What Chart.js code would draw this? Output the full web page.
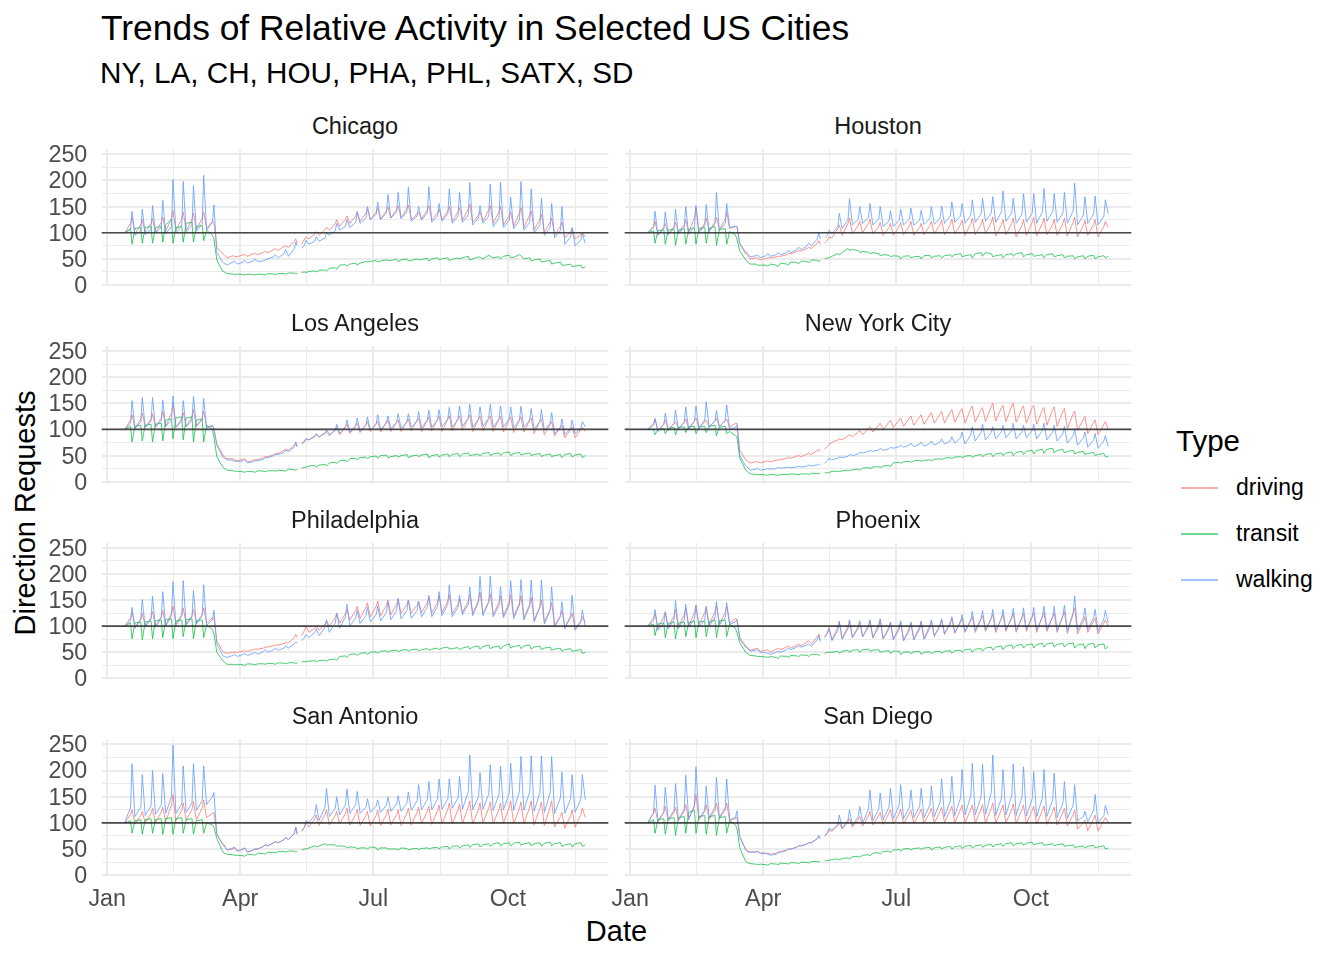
<!DOCTYPE html>
<html>
<head>
<meta charset="utf-8">
<script src="https://cdn.jsdelivr.net/npm/chart.js@4.4.0/dist/chart.umd.min.js"></script>
<style>
  html, body { margin:0; padding:0; background:#fff; }
  body { width:1344px; height:960px; position:relative; overflow:hidden;
         font-family:"Liberation Sans", Arial, Helvetica, sans-serif; }
  .t { position:absolute; white-space:nowrap; line-height:1; }
  canvas { position:absolute; }
</style>
</head>
<body>
<div class="t" id="title" style="left:101px;top:10.7px;font-size:35.4px;color:#000;">Trends of Relative Activity in Selected US Cities</div>
<div class="t" id="subtitle" style="left:100px;top:58.2px;font-size:29.7px;color:#000;">NY, LA, CH, HOU, PHA, PHL, SATX, SD</div>
<div class="t" id="ytitle" style="left:25px;top:512.5px;font-size:29px;color:#000;transform:translate(-50%,-50%) rotate(-90deg);">Direction Requests</div>
<div class="t" id="xtitle" style="left:616.5px;top:916.5px;font-size:29px;color:#000;transform:translateX(-50%);">Date</div>
<div id="legend"></div>
<div id="panels"></div>
<script>
// ---------- DATA ----------
// day of year 2020 (0 = Jan 1): weekly Monday / Friday / Saturday samples (Jan 13 .. Nov 23), May 11 missing
const days = [12,16,17, 19,23,24, 26,30,31, 33,37,38, 40,44,45, 47,51,52, 54,58,59, 61,65,66, 68,72,73,
 75,79,80, 82,86,87, 89,93,94, 96,100,101, 103,107,108, 110,114,115, 117,121,122, 124,128,129,
 130, 131,133,135,136,
 138,142,143, 145,149,150, 152,156,157, 159,163,164, 166,170,171, 173,177,178, 180,184,185, 187,191,192,
 194,198,199, 201,205,206, 208,212,213, 215,219,220, 222,226,227, 229,233,234, 236,240,241, 243,247,248,
 250,254,255, 257,261,262, 264,268,269, 271,275,276, 278,282,283, 285,289,290, 292,296,297, 299,303,304,
 306,310,311, 313,317,318, 320,324,325,
 327];

const cities = ['Chicago','Houston','Los Angeles','New York City','Philadelphia','Phoenix','San Antonio','San Diego'];
const types = ['driving','transit','walking'];

const chicagoDriving = [100,118,130, 98,115,125, 100,118,128, 100,120,130, 102,128,142, 104,126,140, 104,125,138, 106,128,140, 108,122,120,
 72,60,58, 52,56,55, 54,58,58, 55,60,60, 58,63,64, 62,68,70, 66,74,75, 72,84,88,
 80, null,78,88,92,
 88,98,102, 95,106,110, 105,118,125, 112,126,132, 118,132,140, 122,138,145, 125,140,148, 126,142,150, 128,145,152,
 128,146,153, 125,136,140, 126,144,152, 124,138,145, 125,142,150, 122,140,148, 124,146,155, 120,134,140, 122,144,152,
 118,140,150, 115,132,140, 112,138,148, 110,134,142, 105,126,135, 100,120,128, 95,112,120, 90,102,108, 88,96,100,
 92];
const chicagoTransit = [100,108,78, 108,110,80, 110,112,80, 110,112,82, 115,126,80, 110,112,82, 118,120,82, 112,114,85, 105,95,88,
 48,26,25, 22,21,20, 21,20,19, 21,20,19, 21,20,19, 22,21,20, 22,22,21, 23,23,22,
 22, null,24,25,24,
 26,27,25, 28,29,27, 32,33,30, 38,39,36, 40,42,38, 42,45,44, 45,47,44, 46,48,47, 47,49,45,
 48,50,46, 47,50,48, 49,51,46, 50,52,48, 50,52,47, 49,52,50, 52,55,48, 50,54,53, 50,57,55,
 52,54,50, 55,57,52, 53,58,56, 50,52,46, 48,50,44, 45,47,40, 42,44,38, 38,40,35, 36,38,32,
 35];
const chicagoWalking = [100,106,141, 95,104,145, 97,106,152, 100,110,162, 98,112,202, 100,112,198, 102,114,190, 103,116,210, 105,120,153,
 62,44,42, 38,44,46, 40,44,47, 42,46,50, 45,46,48, 50,54,58, 52,60,68, 55,70,82,
 75, null,70,76,86,
 78,84,92, 84,90,100, 95,104,118, 105,112,125, 110,120,140, 118,128,150, 125,135,159, 125,138,173, 128,140,177,
 127,140,187, 122,132,150, 124,138,188, 120,132,156, 122,136,184, 118,132,177, 120,134,196, 115,128,152, 118,132,193,
 112,128,196, 110,124,168, 108,124,198, 105,120,184, 100,115,166, 95,110,156, 90,104,150, 78,92,110, 75,86,98,
 80];

const houstonDriving = [100,112,122, 96,110,118, 98,112,120, 100,115,125, 100,130,148, 102,118,128, 104,120,130, 106,126,140, 108,112,112,
 78,60,58, 50,52,52, 48,51,52, 52,54,55, 55,58,60, 60,64,66, 65,70,72, 70,80,85,
 78, null,80,86,92,
 90,108,115, 95,118,128, 98,114,122, 100,118,126, 98,112,120, 95,110,118, 95,112,120, 96,114,122, 95,110,118,
 96,114,122, 98,116,124, 96,116,126, 98,116,124, 95,118,128, 96,116,126, 98,120,130, 94,116,125, 96,118,128,
 92,114,125, 95,120,130, 94,118,128, 96,116,126, 95,118,128, 94,120,130, 92,114,124, 95,116,125, 92,112,122,
 110];
const houstonTransit = [100,104,80, 104,106,78, 105,107,76, 105,108,78, 106,110,78, 108,110,80, 108,112,76, 106,108,78, 102,96,88,
 65,48,45, 40,40,38, 38,38,36, 40,38,35, 42,40,38, 44,43,40, 46,45,42, 48,47,45,
 48, null,50,52,52,
 55,60,58, 62,70,66, 68,66,62, 64,63,60, 62,60,56, 58,57,54, 56,55,50, 55,56,52, 54,55,50,
 56,57,52, 55,56,52, 56,58,54, 58,60,54, 56,58,52, 60,62,55, 62,60,54, 56,58,52, 58,60,55,
 60,62,54, 58,60,55, 56,58,52, 58,60,54, 56,58,52, 55,56,50, 54,56,50, 55,57,50, 54,56,52,
 55];
const houstonWalking = [100,110,141, 95,108,140, 96,108,145, 98,110,150, 97,112,152, 100,114,154, 102,118,177, 104,118,156, 110,112,112,
 80,62,62, 54,56,58, 52,56,60, 55,58,62, 58,62,66, 62,68,72, 68,75,80, 75,88,100,
 88, null,90,95,105,
 98,112,137, 108,125,165, 115,126,150, 118,130,156, 115,126,150, 112,122,142, 112,124,145, 115,126,147, 114,124,143,
 116,128,150, 116,128,151, 118,132,159, 120,132,156, 118,134,163, 120,136,166, 122,138,169, 120,140,180, 122,138,166,
 118,136,175, 120,138,175, 118,140,185, 122,140,175, 120,138,177, 118,142,195, 115,134,169, 118,136,170, 115,132,163,
 136];

const losAngelesDriving = [100,118,128, 102,120,132, 104,120,130, 104,122,135, 105,132,150, 104,120,132, 105,124,138, 106,122,135, 104,108,102,
 72,52,48, 44,44,42, 40,43,44, 38,41,42, 42,46,48, 48,52,54, 54,60,62, 60,70,76,
 68, null,74,78,82,
 80,88,90, 85,94,96, 88,100,104, 90,106,110, 92,108,112, 94,110,115, 96,112,116, 95,114,118, 96,114,118,
 96,116,120, 97,118,122, 96,118,124, 97,120,125, 96,120,126, 97,121,126, 98,122,128, 96,120,125, 97,121,126,
 96,120,125, 95,119,124, 94,118,124, 95,118,122, 92,116,120, 90,110,115, 88,104,108, 84,100,105, 84,100,104,
 96];
const losAngelesTransit = [100,106,76, 106,108,78, 108,110,76, 110,112,78, 118,120,82, 122,124,80, 122,124,76, 118,120,76, 108,100,85,
 48,28,26, 22,21,20, 20,19,18, 20,19,18, 21,20,19, 21,21,20, 22,21,20, 24,23,22,
 24, null,26,27,28,
 30,31,28, 32,33,30, 36,37,35, 40,41,38, 44,45,42, 46,47,44, 48,49,45, 50,51,46, 48,50,47,
 50,52,46, 49,51,48, 51,53,46, 50,52,47, 51,53,48, 52,54,48, 53,55,50, 51,53,49, 54,56,50,
 53,55,50, 55,57,50, 54,56,51, 53,55,50, 52,54,48, 51,53,48, 50,52,46, 52,54,47, 51,53,46,
 50];
const losAngelesWalking = [100,112,155, 102,114,161, 104,116,161, 105,116,156, 106,118,164, 104,116,155, 105,118,163, 106,118,159, 104,106,100,
 70,48,45, 42,41,40, 38,40,42, 36,38,40, 40,43,46, 46,50,52, 52,56,60, 58,66,75,
 66, null,72,76,82,
 80,86,92, 86,92,100, 90,98,110, 92,104,118, 95,106,122, 96,108,124, 98,110,128, 100,112,126, 101,114,130,
 102,114,130, 104,116,134, 103,118,137, 104,118,138, 105,120,142, 104,120,145, 106,122,148, 104,120,143, 106,122,148,
 104,120,145, 105,120,143, 103,118,144, 104,118,140, 100,116,138, 98,112,132, 92,104,120, 90,102,118, 92,102,115,
 105];

const newYorkDriving = [100,112,120, 98,110,118, 100,110,115, 102,114,120, 102,116,122, 104,114,118, 105,116,122, 106,116,120, 104,112,112,
 60,42,40, 36,38,38, 36,39,40, 38,41,42, 42,45,46, 45,49,50, 48,53,55, 52,60,62,
 58, null,62,68,72,
 75,80,82, 80,88,90, 86,95,98, 90,102,105, 95,108,112, 100,114,118, 104,118,122, 106,122,126, 108,124,128,
 110,128,132, 112,130,135, 112,134,138, 114,136,140, 112,140,145, 114,138,142, 115,144,150, 116,142,146, 115,145,150,
 114,140,145, 112,142,146, 110,138,142, 108,138,143, 106,135,140, 102,130,135, 98,120,125, 92,114,118, 90,110,115,
 100];
const newYorkTransit = [100,100,90, 100,102,92, 102,104,90, 104,105,94, 105,106,92, 104,106,94, 106,108,88, 104,106,92, 96,88,86,
 45,22,20, 15,14,13, 14,13,12, 14,13,12, 14,14,13, 15,14,13, 15,15,14, 16,16,15,
 16, null,17,17,17,
 20,20,19, 21,22,21, 23,24,22, 26,27,25, 28,29,27, 30,31,29, 36,37,35, 38,39,37, 40,41,39,
 41,42,40, 43,44,42, 45,46,44, 47,48,46, 49,50,46, 50,52,48, 52,54,48, 53,55,50, 55,57,50,
 56,58,52, 58,60,53, 60,62,54, 62,64,55, 60,62,55, 58,60,53, 56,58,52, 54,56,50, 52,54,48,
 48];
const newYorkWalking = [100,108,121, 96,110,131, 98,112,137, 100,114,143, 100,116,145, 102,118,153, 104,116,136, 104,118,147, 100,104,108,
 50,30,28, 22,24,26, 22,24,25, 24,25,27, 26,27,28, 27,28,30, 28,30,32, 30,32,34,
 32, null,35,40,45,
 42,45,48, 46,49,52, 50,53,56, 55,58,60, 58,61,64, 60,63,66, 64,67,70, 66,70,74, 67,72,76,
 68,73,78, 70,76,82, 72,78,86, 74,84,95, 72,90,105, 78,94,110, 80,94,105, 82,96,108, 84,98,112,
 82,96,108, 84,98,110, 82,98,112, 80,95,108, 78,92,106, 74,88,100, 70,84,95, 66,80,92, 64,78,88,
 67];

const philadelphiaDriving = [100,116,128, 98,114,125, 100,116,128, 100,118,130, 102,124,138, 104,122,135, 104,120,132, 106,122,135, 106,116,115,
 72,52,50, 48,50,50, 50,52,53, 52,55,56, 56,58,60, 60,63,64, 64,67,68, 68,78,84,
 78, null,82,92,100,
 88,96,100, 92,104,110, 100,116,125, 106,124,132, 112,130,138, 115,136,145, 118,138,148, 120,140,150, 122,142,152,
 124,142,150, 125,140,148, 126,145,155, 125,146,158, 126,148,160, 124,142,152, 126,148,160, 124,150,165, 124,148,162,
 122,145,158, 120,146,160, 118,144,158, 116,142,155, 112,138,150, 108,132,145, 102,120,130, 98,116,125, 95,110,118,
 106];
const philadelphiaTransit = [100,106,76, 106,108,74, 108,110,76, 110,112,78, 112,114,76, 110,112,80, 112,114,76, 110,112,78, 102,94,85,
 50,34,32, 27,27,26, 27,26,25, 28,27,26, 28,28,27, 29,28,27, 30,29,28, 30,30,28,
 30, null,32,32,32,
 33,34,32, 34,35,33, 36,37,35, 42,43,40, 46,47,44, 48,49,46, 50,51,48, 52,53,50, 53,54,51,
 54,55,52, 55,56,53, 55,57,54, 56,58,55, 58,60,56, 57,59,55, 58,61,56, 60,62,56, 61,64,57,
 60,62,56, 62,66,58, 61,63,57, 62,64,56, 60,62,55, 58,60,54, 56,58,52, 55,57,52, 53,55,48,
 50];
const philadelphiaWalking = [100,110,136, 96,112,151, 98,114,157, 98,116,166, 100,120,185, 100,120,187, 102,118,168, 104,120,179, 102,112,130,
 66,44,42, 40,44,46, 42,46,48, 44,48,50, 46,52,55, 50,55,58, 54,58,62, 58,66,70,
 68, null,72,78,84,
 78,88,95, 82,98,112, 88,106,124, 96,118,142, 100,116,130, 105,120,136, 108,122,138, 110,126,147, 112,130,153,
 114,130,150, 115,130,147, 118,136,159, 118,138,166, 120,142,179, 118,136,159, 122,142,175, 120,146,195, 120,146,196,
 118,140,175, 116,140,187, 114,140,189, 112,138,188, 108,136,188, 104,130,175, 98,118,147, 95,120,159, 92,108,131,
 99];

const phoenixDriving = [100,116,124, 96,118,128, 98,120,132, 98,122,135, 100,126,140, 102,126,138, 102,128,140, 104,126,138, 106,114,114,
 78,62,60, 54,57,58, 52,54,55, 50,56,58, 55,60,62, 58,64,66, 62,70,72, 66,80,85,
 74, null,80,88,98,
 74,98,108, 76,100,110, 78,100,108, 80,102,110, 78,104,112, 76,98,106, 74,100,108, 72,98,106, 74,100,108,
 76,102,110, 80,104,112, 84,108,115, 86,110,116, 88,112,118, 88,114,120, 90,116,122, 88,116,122, 90,118,124,
 88,118,124, 90,118,125, 88,120,126, 90,118,125, 88,120,128, 86,124,135, 85,110,118, 88,110,115, 85,106,112,
 100];
const phoenixTransit = [100,104,82, 104,106,78, 105,108,76, 106,108,80, 106,110,78, 108,110,80, 108,112,78, 110,112,80, 104,96,88,
 68,50,48, 44,43,42, 42,41,40, 42,40,38, 43,42,40, 44,43,42, 45,44,42, 46,46,44,
 45, null,48,50,50,
 50,52,48, 52,54,50, 54,55,50, 55,56,52, 54,55,50, 52,53,48, 52,52,46, 50,51,47, 51,52,46,
 50,51,47, 51,52,48, 52,53,48, 53,54,50, 55,56,50, 56,57,52, 58,60,54, 60,62,55, 62,64,57,
 63,65,58, 64,66,58, 65,67,60, 66,68,60, 65,67,60, 66,68,58, 64,66,57, 65,67,58, 64,66,56,
 62];
const phoenixWalking = [100,110,132, 92,106,126, 95,112,149, 96,112,142, 98,114,140, 98,112,136, 100,116,147, 102,116,145, 104,108,112,
 75,60,58, 52,54,55, 50,49,48, 46,50,52, 50,55,58, 55,60,62, 60,64,66, 62,74,82,
 70, null,78,86,95,
 72,92,110, 75,95,112, 78,96,110, 80,98,112, 78,98,114, 76,94,108, 74,94,110, 72,92,108, 74,94,110,
 75,96,112, 82,100,114, 86,104,118, 88,108,122, 90,112,128, 92,114,130, 92,115,132, 92,115,132, 93,116,134,
 92,116,135, 94,118,136, 92,118,138, 94,118,138, 92,120,140, 90,126,158, 92,116,135, 94,116,132, 90,114,130,
 106];

const sanAntonioDriving = [100,116,125, 98,114,122, 100,118,128, 100,120,130, 102,134,154, 104,124,138, 105,126,141, 106,128,144, 110,118,120,
 78,58,56, 48,50,52, 46,50,52, 44,48,50, 50,55,58, 56,62,64, 62,68,72, 68,80,92,
 78, null,84,92,100,
 92,108,115, 95,116,125, 96,114,122, 98,118,128, 96,116,126, 95,114,122, 94,114,124, 95,116,126, 96,116,125,
 95,118,128, 96,120,130, 98,122,132, 97,124,134, 98,126,138, 98,125,136, 99,130,142, 98,126,138, 100,128,140,
 98,126,138, 99,130,142, 98,128,140, 98,130,142, 96,128,140, 95,130,142, 92,112,120, 90,114,125, 92,116,128,
 110];
const sanAntonioTransit = [100,104,80, 104,106,78, 106,108,80, 106,108,78, 108,110,78, 108,110,80, 106,108,78, 104,106,80, 100,96,92,
 70,45,42, 40,39,38, 38,37,36, 40,39,38, 42,41,40, 44,43,42, 45,45,44, 46,46,44,
 46, null,48,50,50,
 52,56,54, 56,60,58, 58,58,55, 56,55,52, 54,53,50, 52,52,50, 54,52,48, 52,52,50, 50,50,48,
 52,51,48, 50,51,49, 51,52,50, 52,53,50, 54,55,50, 55,56,52, 56,58,53, 58,60,54, 58,60,55,
 60,62,56, 60,62,56, 61,63,57, 60,62,56, 60,62,55, 61,63,56, 60,62,55, 58,60,54, 60,62,55,
 58];
const sanAntonioWalking = [100,130,213, 112,130,192, 114,132,200, 116,134,194, 118,150,249, 118,136,209, 120,138,213, 124,142,209, 135,150,158,
 78,60,58, 48,52,54, 46,50,52, 44,48,50, 50,55,58, 56,62,64, 62,68,72, 68,80,92,
 78, null,84,92,105,
 100,115,135, 105,130,166, 112,128,150, 115,135,165, 118,135,160, 118,130,146, 120,132,144, 120,134,150, 122,136,152,
 122,138,159, 124,142,173, 125,145,179, 125,146,184, 126,146,184, 128,148,189, 126,160,230, 125,150,196, 126,155,211,
 124,154,208, 125,156,214, 124,160,227, 124,160,228, 122,158,228, 120,158,227, 118,148,197, 118,146,192, 120,146,192,
 144];

const sanDiegoDriving = [100,118,128, 102,120,132, 104,120,130, 104,122,135, 106,134,154, 106,122,135, 107,124,138, 108,124,138, 104,108,110,
 74,50,47, 44,45,46, 42,42,42, 40,42,44, 45,48,50, 50,54,56, 56,60,62, 62,70,74,
 70, null,74,80,86,
 84,94,100, 88,102,108, 92,106,112, 94,114,122, 96,114,120, 97,118,125, 98,118,126, 98,118,124, 99,120,126,
 100,120,128, 100,122,130, 101,124,132, 100,126,134, 100,126,134, 100,126,135, 100,128,138, 99,126,134, 100,126,136,
 99,126,134, 98,124,132, 98,124,132, 97,122,130, 96,120,128, 94,116,124, 88,100,105, 85,108,115, 84,104,110,
 100];
const sanDiegoTransit = [100,106,80, 106,108,78, 108,110,76, 110,112,80, 120,124,80, 112,114,78, 112,114,76, 110,112,80, 104,96,90,
 52,26,24, 22,21,20, 21,20,19, 22,21,20, 23,22,21, 24,23,22, 25,24,23, 26,26,25,
 26, null,27,28,28,
 30,31,29, 32,33,31, 35,36,34, 38,39,37, 42,43,40, 45,46,43, 48,49,46, 50,51,48, 51,52,49,
 52,53,48, 52,54,50, 53,55,50, 54,56,51, 55,57,52, 56,58,53, 57,59,54, 58,60,55, 60,62,56,
 60,62,57, 61,63,58, 60,62,57, 58,60,56, 58,60,55, 56,58,53, 54,56,52, 55,57,52, 54,56,50,
 52];
const sanDiegoWalking = [100,120,172, 104,120,168, 106,124,175, 106,126,191, 108,132,207, 108,124,170, 110,130,187, 110,130,184, 106,110,123,
 72,48,45, 44,44,45, 42,41,40, 38,40,42, 44,47,50, 50,53,56, 56,59,62, 62,70,76,
 70, null,76,82,90,
 86,98,115, 90,106,125, 95,112,131, 100,126,163, 104,126,157, 106,130,166, 108,134,173, 108,130,163, 110,132,166,
 110,134,171, 112,140,184, 112,142,189, 114,148,202, 115,152,214, 115,150,212, 116,158,230, 114,148,202, 115,152,213,
 114,150,207, 113,146,198, 112,148,202, 112,145,195, 110,138,179, 108,134,173, 104,112,122, 102,124,154, 100,114,133,
 115];

// x tick labels (major) and minor grid positions, in day-of-year
const monthTickDays = [0, 91, 182, 274];
const monthTickLabels = ['Jan', 'Apr', 'Jul', 'Oct'];
const minorTickDays = [45.5, 136.5, 228, 320];
// y ticks
const yMajorTicks = [0, 50, 100, 150, 200, 250];
const yMinorTicks = [25, 75, 125, 175, 225];
const referenceLevel = 100;

// ---------- STYLE / LAYOUT ----------
const seriesByCity = {
  'Chicago':       { driving: chicagoDriving,      transit: chicagoTransit,      walking: chicagoWalking },
  'Houston':       { driving: houstonDriving,      transit: houstonTransit,      walking: houstonWalking },
  'Los Angeles':   { driving: losAngelesDriving,   transit: losAngelesTransit,   walking: losAngelesWalking },
  'New York City': { driving: newYorkDriving,      transit: newYorkTransit,      walking: newYorkWalking },
  'Philadelphia':  { driving: philadelphiaDriving, transit: philadelphiaTransit, walking: philadelphiaWalking },
  'Phoenix':       { driving: phoenixDriving,      transit: phoenixTransit,      walking: phoenixWalking },
  'San Antonio':   { driving: sanAntonioDriving,   transit: sanAntonioTransit,   walking: sanAntonioWalking },
  'San Diego':     { driving: sanDiegoDriving,     transit: sanDiegoTransit,     walking: sanDiegoWalking }
};
const typeColors = {
  driving: 'rgba(248,118,109,0.78)',
  transit: 'rgba(0,186,56,0.72)',
  walking: 'rgba(97,156,255,0.80)'
};
const legendKeyColors = {
  driving: 'rgba(248,118,109,0.6)',
  transit: 'rgba(0,186,56,0.55)',
  walking: 'rgba(97,156,255,0.6)'
};
const typeOrder = { driving: 3, transit: 2, walking: 1 };

const FONT = '"Liberation Sans", Arial, Helvetica, sans-serif';
const PLOT_LEFT = [101.7, 624.7];
const PLOT_W = 506.6;
const PLOT_TOP0 = 149.3;
const ROW_STEP = 196.7;
const PLOT_H = 136.4;
const CANVAS_W = 612;
const CANVAS_H = 190;
const X_MIN = -3.75, X_MAX = 342.75;
const Y_MIN = -1.3, Y_MAX = 259.6;

function zeroPad(s) { s.paddingTop = 0; s.paddingBottom = 0; s.paddingLeft = 0; s.paddingRight = 0; }

const refLinePlugin = {
  id: 'refLine',
  afterDatasetsDraw(chart) {
    const { ctx, chartArea, scales } = chart;
    const y = scales.y.getPixelForValue(referenceLevel);
    ctx.save();
    ctx.strokeStyle = 'rgba(45,45,45,0.85)';
    ctx.lineWidth = 1.7;
    ctx.beginPath();
    ctx.moveTo(chartArea.left, y);
    ctx.lineTo(chartArea.right, y);
    ctx.stroke();
    ctx.restore();
  }
};

const panelsDiv = document.getElementById('panels');

cities.forEach((city, i) => {
  const col = i % 2, row = Math.floor(i / 2);
  const plotLeft = PLOT_LEFT[col];
  const canvasLeft = Math.round(plotLeft - PLOT_LEFT[0]);
  const yAxisW = plotLeft - canvasLeft;
  const plotTop = PLOT_TOP0 + row * ROW_STEP;
  const canvasTop = Math.floor(plotTop) - 8;
  const padTop = plotTop - canvasTop;
  const xAxisH = CANVAS_H - padTop - PLOT_H;
  const padRight = CANVAS_W - yAxisW - PLOT_W;

  // strip label
  const strip = document.createElement('div');
  strip.className = 't';
  strip.textContent = city;
  strip.style.cssText = `left:${plotLeft + PLOT_W / 2}px;top:${135 + row * ROW_STEP - 23.5 * 0.8465}px;font-size:23.5px;color:#1A1A1A;transform:translateX(-50%);`;
  document.body.appendChild(strip);

  const cv = document.createElement('canvas');
  cv.width = CANVAS_W; cv.height = CANVAS_H;
  cv.style.left = canvasLeft + 'px';
  cv.style.top = canvasTop + 'px';
  cv.style.width = CANVAS_W + 'px';
  cv.style.height = CANVAS_H + 'px';
  panelsDiv.appendChild(cv);

  const datasets = types.map(type => ({
    label: type,
    data: days.map((d, j) => ({ x: d, y: seriesByCity[city][type][j] })),
    borderColor: typeColors[type],
    backgroundColor: typeColors[type],
    borderWidth: 1,
    pointRadius: 0,
    tension: 0,
    spanGaps: false,
    fill: false,
    order: typeOrder[type]
  }));

  new Chart(cv, {
    type: 'line',
    data: { datasets },
    plugins: [refLinePlugin],
    options: {
      responsive: false,
      animation: false,
      devicePixelRatio: 1,
      events: [],
      layout: { padding: { left: 0, right: padRight, top: padTop, bottom: 0 } },
      plugins: { legend: { display: false }, tooltip: { enabled: false }, title: { display: false } },
      scales: {
        x: {
          type: 'linear',
          min: X_MIN, max: X_MAX,
          border: { display: false },
          grid: {
            color: '#EBEBEB',
            drawTicks: false,
            lineWidth: ctx => (ctx.tick && monthTickDays.includes(ctx.tick.value)) ? 2 : 1
          },
          ticks: {
            display: row === 3,
            autoSkip: false,
            maxRotation: 0,
            padding: 9.4,
            color: '#4D4D4D',
            font: { family: FONT, size: 23.3 },
            callback: v => {
              const k = monthTickDays.indexOf(v);
              return k >= 0 ? monthTickLabels[k] : '';
            }
          },
          afterBuildTicks: s => {
            s.ticks = monthTickDays.concat(minorTickDays).sort((a, b) => a - b).map(v => ({ value: v }));
          },
          afterFit: s => { s.height = xAxisH; zeroPad(s); }
        },
        y: {
          type: 'linear',
          min: Y_MIN, max: Y_MAX,
          border: { display: false },
          grid: {
            color: '#EBEBEB',
            drawTicks: false,
            lineWidth: ctx => (ctx.tick && yMajorTicks.includes(ctx.tick.value)) ? 2 : 1
          },
          ticks: {
            display: col === 0,
            autoSkip: false,
            padding: 14.4,
            labelOffset: 1.5,
            color: '#4D4D4D',
            font: { family: FONT, size: 23.3 },
            callback: v => yMajorTicks.includes(v) ? String(v) : ''
          },
          afterBuildTicks: s => {
            s.ticks = yMajorTicks.concat(yMinorTicks).sort((a, b) => a - b).map(v => ({ value: v }));
          },
          afterFit: s => { s.width = yAxisW; zeroPad(s); }
        }
      }
    }
  });
});

// ---------- LEGEND ----------
const legend = document.getElementById('legend');
const legTitle = document.createElement('div');
legTitle.className = 't';
legTitle.textContent = 'Type';
legTitle.style.cssText = `left:1176px;top:${451 - 29.5 * 0.8465}px;font-size:29.5px;color:#000;`;
legend.appendChild(legTitle);
types.forEach((type, k) => {
  const yLine = 487 + k * 46;
  const key = document.createElement('div');
  key.style.cssText = `position:absolute;left:1181px;top:${yLine - 0.5}px;width:37px;height:2px;background:${legendKeyColors[type]};`;
  legend.appendChild(key);
  const lab = document.createElement('div');
  lab.className = 't';
  lab.textContent = type;
  lab.style.cssText = `left:1236px;top:${yLine + 8.5 - 23 * 0.8465}px;font-size:23px;color:#000;`;
  legend.appendChild(lab);
});
</script>
</body>
</html>
